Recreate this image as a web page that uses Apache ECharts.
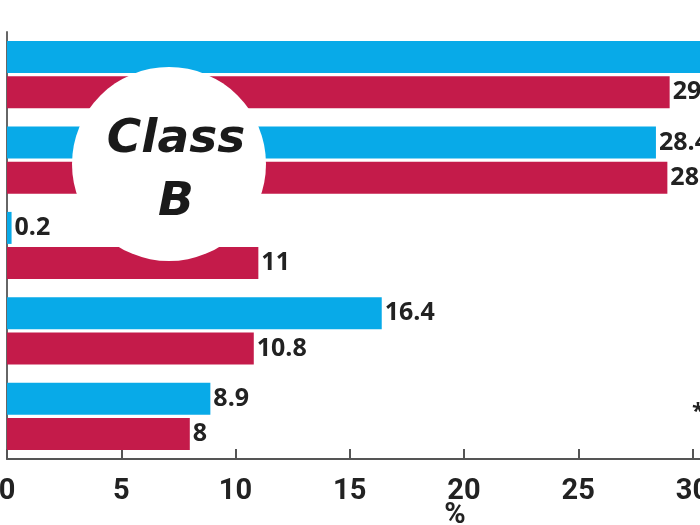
<!DOCTYPE html>
<html>
<head>
<meta charset="utf-8">
<script src="https://cdn.jsdelivr.net/npm/echarts@6/dist/echarts.min.js"></script>
<style>
html,body{margin:0;padding:0;background:#fff;}
#chart{width:700px;height:525px;}
</style>
</head>
<body>
<div id="chart"></div>
<script>
var categories = ['Item 1', 'Item 2', 'Item 3', 'Item 4', 'Item 5'];
var blueValues = [31.2, 28.4, 0.2, 16.4, 8.9];
var redValues = [29, 28.9, 11, 10.8, 8];
var xTicks = [0, 5, 10, 15, 20, 25, 30, 35, 40];

var chart = echarts.init(document.getElementById('chart'));
var labelStyle = {
  show: true,
  position: 'right',
  distance: 3,
  color: '#222',
  fontFamily: 'Open Sans',
  fontWeight: 'bold',
  fontSize: 25
};
chart.setOption({
  animation: false,
  grid: { left: 7, width: 914, top: 32, bottom: 66, containLabel: false, outerBoundsMode: 'none' },
  xAxis: {
    type: 'value',
    min: xTicks[0],
    max: xTicks[xTicks.length - 1],
    interval: 5,
    name: '%',
    nameLocation: 'middle',
    nameGap: 42,
    nameMoveOverlap: false,
    nameTextStyle: { color: '#222', fontFamily: 'Roboto', fontWeight: 'bold', fontSize: 29, padding: [0, 18, 0, 0] },
    axisLine: { show: true, lineStyle: { color: '#555', width: 2 } },
    axisTick: { show: true, inside: true, length: 10, lineStyle: { color: '#555', width: 2 } },
    axisLabel: { color: '#222', fontFamily: 'Roboto', fontWeight: 'bold', fontSize: 29, margin: 18 },
    splitLine: { show: false }
  },
  yAxis: {
    type: 'category',
    data: categories,
    inverse: true,
    axisLine: { show: true, lineStyle: { color: '#666', width: 2 } },
    axisTick: { show: false },
    axisLabel: { show: false }
  },
  series: [
    {
      type: 'bar',
      data: blueValues,
      barWidth: 32,
      barGap: '10%',
      itemStyle: { color: '#08aae8' },
      label: labelStyle
    },
    {
      type: 'bar',
      data: redValues,
      barWidth: 32,
      itemStyle: { color: '#c41b4a' },
      label: labelStyle
    }
  ],
  graphic: [
    {
      type: 'circle',
      shape: { cx: 169, cy: 164, r: 97 },
      style: { fill: '#fff' },
      z: 100
    },
    {
      type: 'text',
      x: 176, y: 140,
      style: { text: 'Class', fill: '#1a1a1a', font: 'italic bold 47px "DejaVu Sans"', align: 'center', verticalAlign: 'middle' },
      z: 101
    },
    {
      type: 'text',
      x: 176, y: 203,
      style: { text: 'B', fill: '#1a1a1a', font: 'italic bold 47px "DejaVu Sans"', align: 'center', verticalAlign: 'middle' },
      z: 101
    },
    {
      type: 'text',
      x: 692, y: 412,
      style: { text: '*', fill: '#222', font: 'bold 22px "Open Sans"', align: 'left', verticalAlign: 'middle' },
      z: 101
    }
  ]
});
</script>
</body>
</html>
